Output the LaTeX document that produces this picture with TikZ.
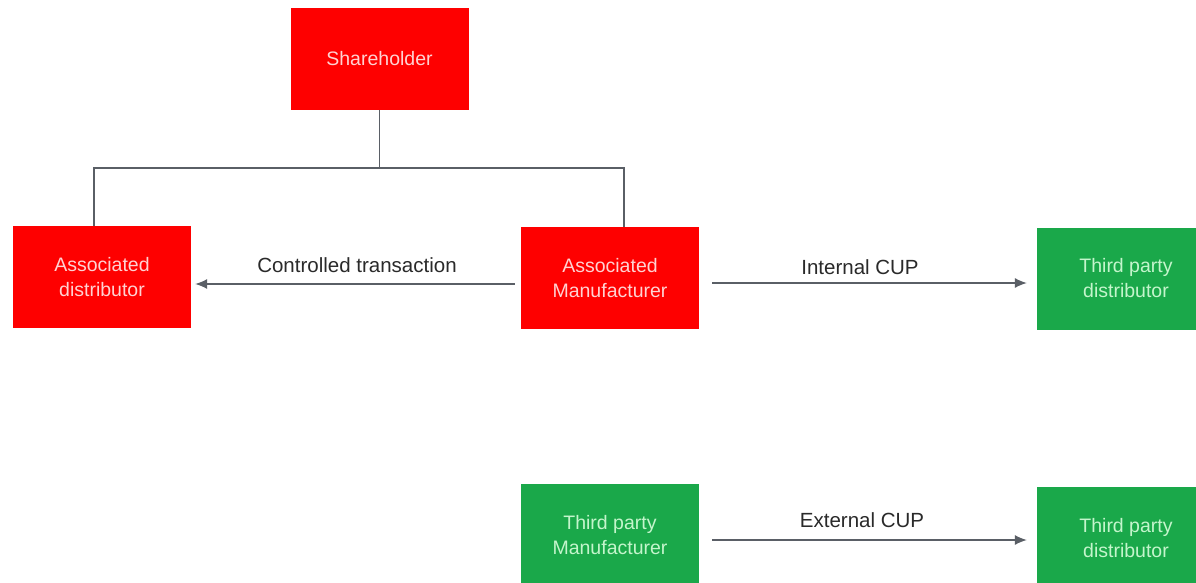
\documentclass[tikz,border=0pt]{standalone}
\usepackage{fontspec}
\setmainfont{Liberation Sans}
\usetikzlibrary{arrows.meta}
\definecolor{boxred}{HTML}{FE0000}
\definecolor{boxgreen}{HTML}{1AA84A}
\definecolor{redtext}{HTML}{FFD2D2}
\definecolor{greentext}{HTML}{C4F5CC}
\definecolor{linegray}{HTML}{5A5F66}
\definecolor{labelgray}{HTML}{2A2A2A}
\tikzset{
  redbox/.style={fill=boxred, draw=none, minimum width=178pt, minimum height=102pt,
    text=redtext, align=center, font=\fontsize{19.5}{25}\selectfont, inner sep=0pt},
  greenbox/.style={fill=boxgreen, draw=none, minimum width=178pt, minimum height=102pt,
    text=greentext, align=center, font=\fontsize{19.5}{25}\selectfont, inner sep=0pt},
  conn/.style={draw=linegray, line width=1.2pt},
  arr/.style={conn, -{Latex[length=12pt,width=10pt]}},
  lbl/.style={text=labelgray, font=\fontsize{20.5}{24}\selectfont, inner sep=0pt}
}
\begin{document}
\begin{tikzpicture}[x=1pt,y=-1pt]
\useasboundingbox (0,0) rectangle (1196,583);
\fill[white] (0,0) rectangle (1196,583);
\clip (0,0) rectangle (1196,583);
% nodes
\node[redbox] (sh) at (379.5,59) {Shareholder};
\node[redbox] (ad) at (102,277) {Associated\\distributor};
\node[redbox] (am) at (610,278) {Associated\\Manufacturer};
\node[greenbox] (td1) at (1126,278.5) {Third party\\distributor};
\node[greenbox] (tm) at (610,535) {Third party\\Manufacturer};
\node[greenbox] (td2) at (1126,538) {Third party\\distributor};
% ownership tree
\coordinate (bus) at (379.5,168);
\draw[conn, line width=1.6pt] (sh.south) -- (bus);
\draw[conn] ([xshift=-8pt]ad.north) |- (bus) -| ([xshift=14pt]am.north);
% transactions
\draw[arr, shorten <=6pt, shorten >=4pt] (am.west |- 0,284) -- (ad.east |- 0,284);
\node[lbl] (l1) at (357,265) {Controlled transaction};
\draw[arr, shorten <=13pt, shorten >=10pt] (am.east |- 0,283) -- (td1.west |- 0,283);
\node[lbl] (l2) at (860,267) {Internal CUP};
\draw[arr, shorten <=13pt, shorten >=10pt] (tm.east |- 0,540) -- (td2.west |- 0,540);
\node[lbl] (l3) at (862,520) {External CUP};
\end{tikzpicture}
\end{document}
